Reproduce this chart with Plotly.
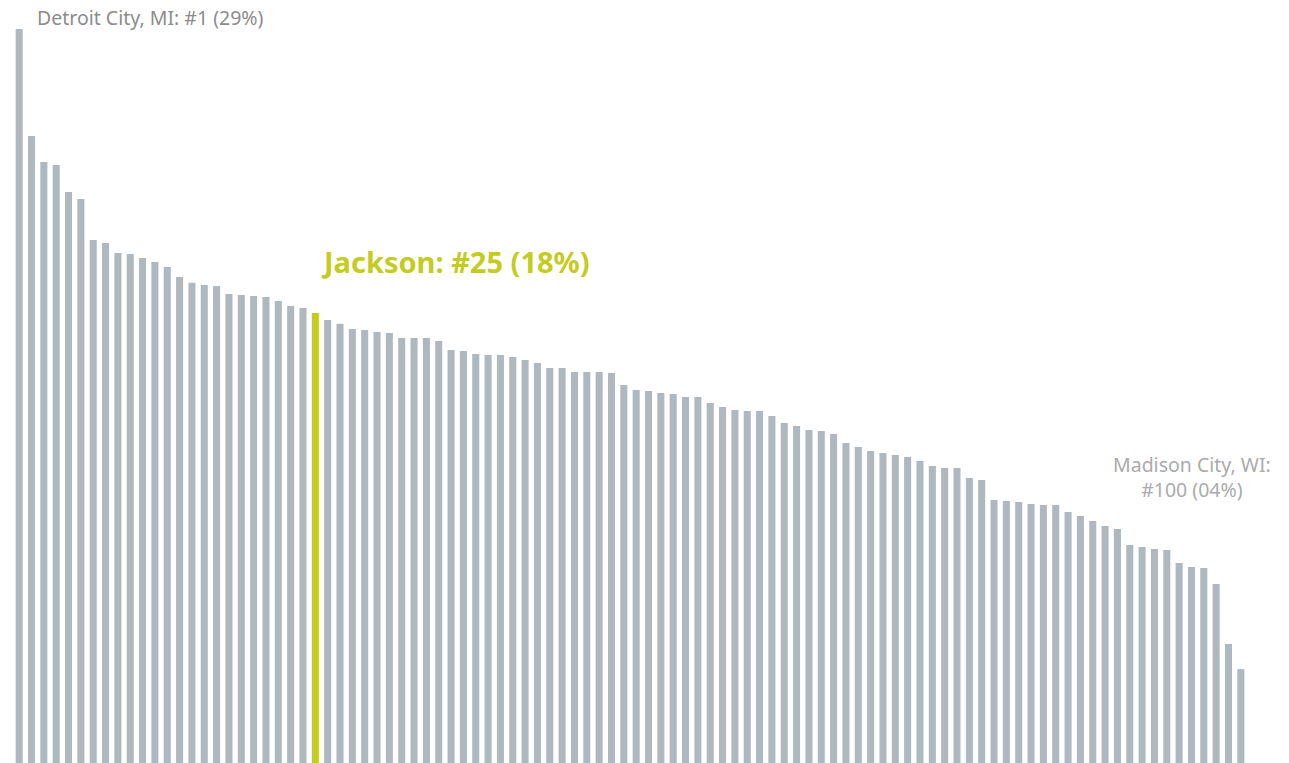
import plotly.graph_objects as go

# rank 1..100, share in percent
ranks = list(range(1, 101))
shares = [
    29.00, 24.77, 23.75, 23.63, 22.56, 22.28, 20.66, 20.55, 20.15, 20.11,
    19.95, 19.79, 19.60, 19.20, 18.97, 18.89, 18.85, 18.53, 18.49, 18.45,
    18.41, 18.25, 18.06, 17.98, 17.78, 17.50, 17.35, 17.15, 17.11, 17.03,
    16.99, 16.79, 16.79, 16.79, 16.67, 16.32, 16.28, 16.16, 16.12, 16.12,
    16.04, 15.92, 15.80, 15.61, 15.61, 15.45, 15.45, 15.45, 15.41, 14.93,
    14.74, 14.70, 14.62, 14.58, 14.46, 14.46, 14.22, 14.07, 13.95, 13.91,
    13.91, 13.71, 13.43, 13.31, 13.16, 13.12, 13.00, 12.64, 12.49, 12.33,
    12.25, 12.17, 12.09, 11.93, 11.73, 11.66, 11.66, 11.26, 11.18, 10.39,
    10.35, 10.31, 10.23, 10.19, 10.19, 9.92, 9.76, 9.56, 9.36, 9.25,
    8.61, 8.53, 8.46, 8.42, 7.90, 7.74, 7.70, 7.07, 4.70, 3.71,
]
highlight = 25

grey = "#aeb8be"
green = "#c3cc1f"
colors = [green if r == highlight else grey for r in ranks]

fig = go.Figure(go.Bar(x=ranks, y=shares, marker=dict(color=colors, line_width=0)))

font = "Noto Sans, Segoe UI, sans-serif"

fig.add_annotation(x=1, y=shares[0], text="Detroit City, MI: #1 (29%)",
                   xanchor="left", yanchor="middle", xshift=16, yshift=11.5,
                   showarrow=False, font=dict(family=font, size=19.5, color="#8c8c8c"))
fig.add_annotation(x=highlight, y=shares[highlight - 1], text="<b>Jackson: #25 (18%)</b>",
                   xanchor="left", yanchor="middle", xshift=4, yshift=51.5,
                   showarrow=False, font=dict(family=font, size=29, color=green))
fig.add_annotation(x=100, y=shares[-1], text="Madison City, WI:<br>#100 (04%)",
                   xanchor="center", yanchor="middle", xshift=-48.5, yshift=192.5, align="center",
                   showarrow=False, font=dict(family=font, size=19.5, color="#ababab"))

# page has an 8px body margin, so the figure is a bit smaller than the window
fig.update_layout(
    width=1281, height=755,
    margin=dict(l=5, r=42, t=0, b=0),
    plot_bgcolor="white", paper_bgcolor="white",
    bargap=0.43, showlegend=False,
    xaxis=dict(range=[0.5, 100.5], visible=False),
    yaxis=dict(range=[0, 29.83], visible=False),
)

fig.write_html("out.html")
